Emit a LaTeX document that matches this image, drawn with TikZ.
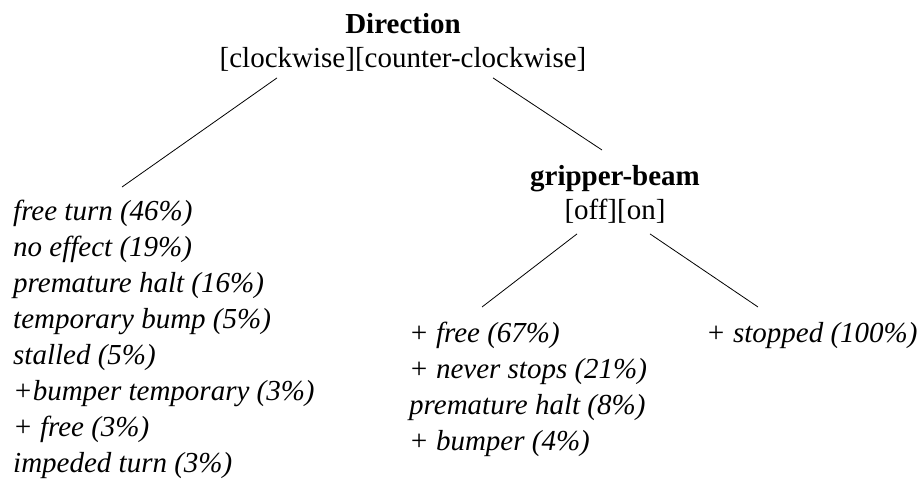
\documentclass[tikz,border=0pt]{standalone}
\usepackage{fontspec}
\setmainfont{Liberation Serif}
\begin{document}
\begin{tikzpicture}[x=1pt,y=-1pt,
  split/.style={inner sep=0pt,align=center,anchor=north,font=\fontsize{29}{34.5}\selectfont},
  leaf/.style={inner sep=0pt,align=left,anchor=north west,font=\fontsize{29}{36}\selectfont\itshape},
  edge/.style={draw=black,line width=0.8pt}]
\useasboundingbox (0,0) rectangle (920,479);
\node[split] (root) at (403,13) {\textbf{Direction}\\{}[clockwise][counter-clockwise]};
\node[split] (gb) at (615,165) {\textbf{gripper-beam}\\{}[off][on]};
\node[leaf] (leafL) at (13,200) {free turn (46\%)\\no effect (19\%)\\premature halt (16\%)\\temporary bump (5\%)\\stalled (5\%)\\+bumper temporary (3\%)\\+ free (3\%)\\impeded turn (3\%)};
\node[leaf] (leafM) at (409,322) {+ free (67\%)\\+ never stops (21\%)\\premature halt (8\%)\\+ bumper (4\%)};
\node[leaf] (leafR) at (706,322) {+ stopped (100\%)};
\draw[edge] ([shift={(-126,6)}]root.south) -- ([shift={(109,-13)}]leafL.north west);
\draw[edge] ([shift={(90,6)}]root.south) -- ([shift={(-13,-15)}]gb.north);
\draw[edge] ([shift={(-38,10)}]gb.south) -- ([shift={(73,-15)}]leafM.north west);
\draw[edge] ([shift={(35,10)}]gb.south) -- ([shift={(52,-15)}]leafR.north west);
\end{tikzpicture}
\end{document}
